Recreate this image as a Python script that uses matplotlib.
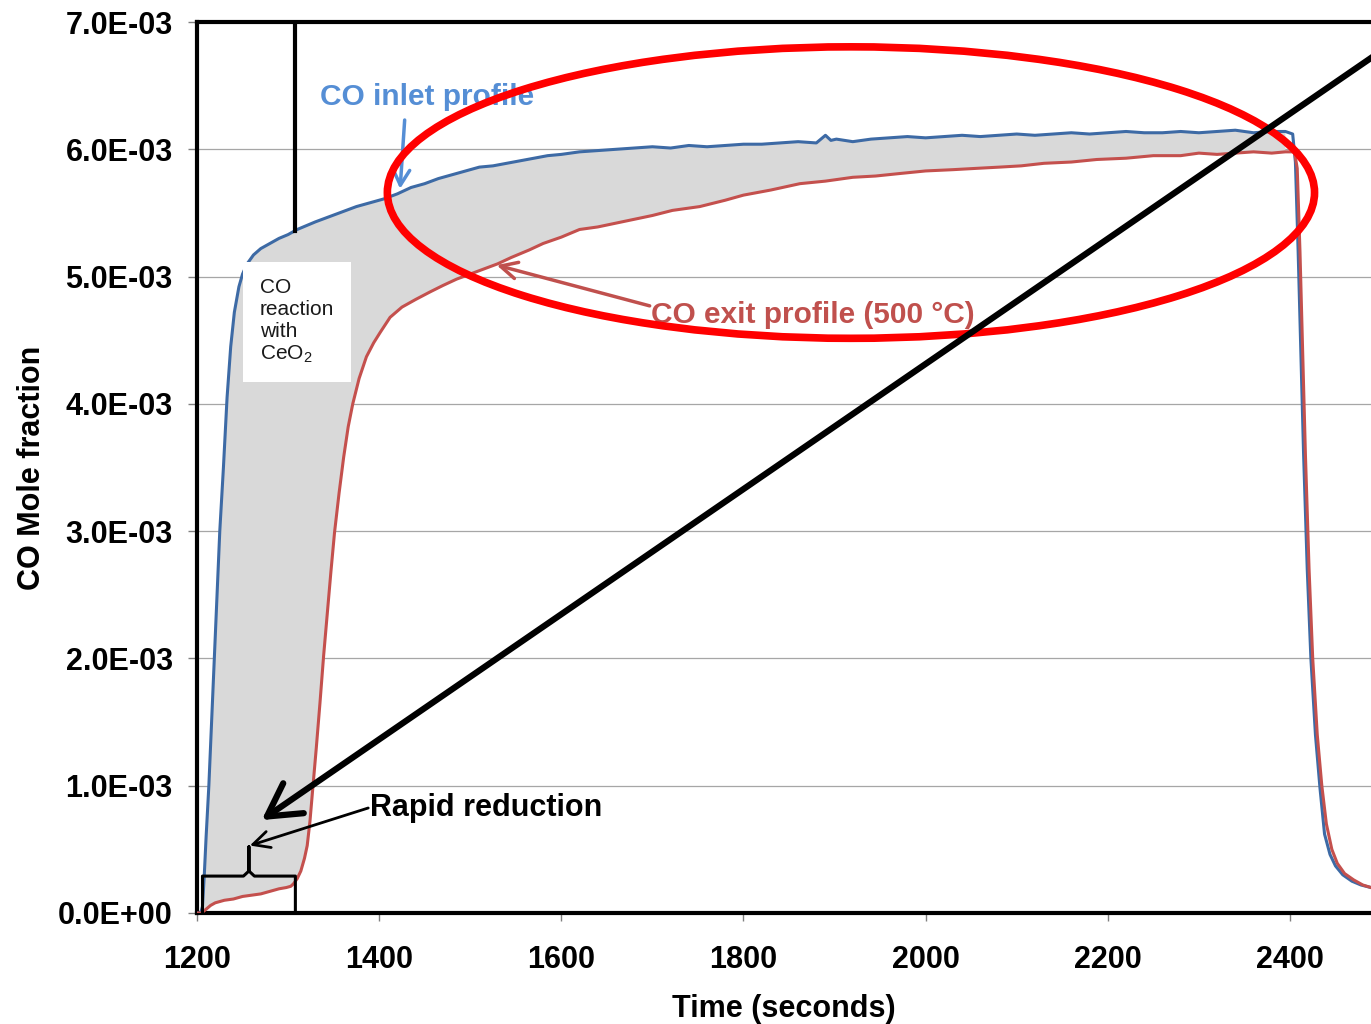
import numpy as np
import matplotlib.pyplot as plt
from matplotlib.patches import Ellipse
from matplotlib.ticker import FuncFormatter, MultipleLocator

# CO inlet profile (time in s, mole fraction in units of 1e-3)
inlet_t = [1200, 1204, 1206, 1208, 1210, 1213, 1216, 1219, 1222, 1225,
           1229, 1233, 1237, 1241, 1246, 1250, 1255, 1262, 1270, 1280,
           1290, 1300, 1310, 1320, 1330, 1345, 1360, 1375, 1390, 1405,
           1420, 1435, 1450, 1465, 1480, 1495, 1510, 1525, 1540, 1555,
           1570, 1585, 1600, 1620, 1640, 1660, 1680, 1700, 1720, 1740,
           1760, 1780, 1800, 1820, 1840, 1860, 1880, 1890, 1896, 1902,
           1920, 1940, 1960, 1980, 2000, 2020, 2040, 2060, 2080, 2100,
           2120, 2140, 2160, 2180, 2200, 2220, 2240, 2260, 2280, 2300,
           2320, 2340, 2360, 2380, 2395, 2403, 2406, 2409, 2412, 2415,
           2419, 2423, 2428, 2433, 2438, 2444, 2450, 2458, 2468, 2478,
           2489]
inlet_y = [0.00, 0.00, 0.05, 0.30, 0.60, 1.00, 1.50, 2.00, 2.50, 3.00,
           3.50, 4.05, 4.45, 4.72, 4.92, 5.02, 5.10, 5.17, 5.22, 5.26,
           5.30, 5.33, 5.37, 5.40, 5.43, 5.47, 5.51, 5.55, 5.58, 5.61,
           5.65, 5.70, 5.73, 5.77, 5.80, 5.83, 5.86, 5.87, 5.89, 5.91,
           5.93, 5.95, 5.96, 5.98, 5.99, 6.00, 6.01, 6.02, 6.01, 6.03,
           6.02, 6.03, 6.04, 6.04, 6.05, 6.06, 6.05, 6.11, 6.07, 6.08,
           6.06, 6.08, 6.09, 6.10, 6.09, 6.10, 6.11, 6.10, 6.11, 6.12,
           6.11, 6.12, 6.13, 6.12, 6.13, 6.14, 6.13, 6.13, 6.14, 6.13,
           6.14, 6.15, 6.13, 6.14, 6.14, 6.12, 5.90, 5.20, 4.40, 3.60,
           2.70, 2.00, 1.40, 0.98, 0.62, 0.46, 0.37, 0.30, 0.25, 0.22,
           0.20]

# CO exit profile at 500 C
exit_t = [1200, 1205, 1210, 1215, 1220, 1230, 1240, 1250, 1260, 1270,
          1280, 1290, 1298, 1303, 1306, 1310, 1314, 1318, 1321, 1324,
          1327, 1331, 1335, 1339, 1343, 1347, 1351, 1356, 1361, 1366,
          1371, 1378, 1386, 1394, 1401, 1412, 1425, 1440, 1456, 1470,
          1485, 1500, 1515, 1530, 1545, 1565, 1580, 1600, 1620, 1640,
          1660, 1680, 1700, 1722, 1752, 1780, 1800, 1830, 1862, 1890,
          1920, 1945, 1972, 2000, 2030, 2055, 2081, 2105, 2130, 2160,
          2188, 2220, 2250, 2280, 2300, 2320, 2340, 2360, 2380, 2395,
          2405, 2408, 2411, 2414, 2417, 2421, 2425, 2430, 2435, 2440,
          2446, 2452, 2460, 2470, 2480, 2489]
exit_y = [0.00, 0.00, 0.03, 0.06, 0.08, 0.10, 0.11, 0.13, 0.14, 0.15,
          0.17, 0.19, 0.20, 0.21, 0.23, 0.27, 0.33, 0.43, 0.53, 0.72,
          0.97, 1.30, 1.65, 2.02, 2.35, 2.68, 2.99, 3.30, 3.58, 3.82,
          4.00, 4.20, 4.37, 4.48, 4.56, 4.68, 4.76, 4.82, 4.88, 4.93,
          4.98, 5.02, 5.06, 5.10, 5.15, 5.21, 5.26, 5.31, 5.37, 5.39,
          5.42, 5.45, 5.48, 5.52, 5.55, 5.60, 5.64, 5.68, 5.73, 5.75,
          5.78, 5.79, 5.81, 5.83, 5.84, 5.85, 5.86, 5.87, 5.89, 5.90,
          5.92, 5.93, 5.95, 5.95, 5.97, 5.96, 5.97, 5.98, 5.97, 5.98,
          5.98, 5.85, 5.20, 4.40, 3.60, 2.70, 2.00, 1.40, 1.00, 0.70,
          0.50, 0.39, 0.31, 0.26, 0.22, 0.20]

y_ticks = [0, 1e-3, 2e-3, 3e-3, 4e-3, 5e-3, 6e-3, 7e-3]

plt.rcParams['font.family'] = ['Liberation Sans', 'DejaVu Sans']
plt.rcParams['font.weight'] = 'bold'
plt.rcParams['mathtext.default'] = 'regular'

t_in = np.array(inlet_t, dtype=float)
y_in = np.array(inlet_y) * 1e-3
t_out = np.array(exit_t, dtype=float)
y_out = np.array(exit_y) * 1e-3

fig = plt.figure(figsize=(13.71, 10.24), dpi=100)
ax = fig.add_axes([0.1437, 0.1084, 0.8563, 0.8701])

# shaded area between inlet and exit = CO consumed by CeO2
m_in = t_in <= 2400
m_out = t_out <= 2400
ax.fill(np.r_[t_in[m_in], t_out[m_out][::-1]],
        np.r_[y_in[m_in], y_out[m_out][::-1]],
        color='#d9d9d9', lw=0, zorder=1)

ax.plot(t_in, y_in, color='#3d6aa5', lw=2.2, zorder=3)
ax.plot(t_out, y_out, color='#c4504d', lw=2.2, zorder=3)

ax.set_xlim(1200, 2489)
ax.set_ylim(0, 7e-3)
ax.xaxis.set_major_locator(MultipleLocator(200))
ax.set_yticks(y_ticks)
ax.yaxis.set_major_formatter(FuncFormatter(lambda v, p: f"{v:.1E}"))
ax.grid(axis='y', color='#a6a6a6', lw=0.9)
ax.set_axisbelow(True)
ax.tick_params(axis='both', direction='out', color='#808080', width=1,
               labelsize=22)
ax.tick_params(axis='y', length=6.5, pad=11)
ax.tick_params(axis='x', length=6, pad=17)

ax.spines['right'].set_visible(False)
for side in ['left', 'top', 'bottom']:
    ax.spines[side].set_linewidth(3)
    ax.spines[side].set_color('black')

ax.set_xlabel('Time (seconds)', fontsize=22, fontweight='bold', labelpad=14)
ax.set_ylabel('CO Mole fraction', fontsize=22, fontweight='bold', labelpad=8)

# marker for the end of the rapid reduction step
mark_t = 1308
ax.plot([mark_t, mark_t], [np.interp(mark_t, t_in, y_in), 7e-3],
        color='black', lw=3, zorder=4)

# curly brace over the rapid reduction window
b0, b1 = 1206, mark_t
bmid = (b0 + b1) / 2
bh, btip = 0.29e-3, 0.52e-3
ax.plot([b0, b0, bmid - 6, bmid, bmid, bmid, bmid + 6, b1, b1],
        [0, bh, bh, bh + 0.04e-3, btip, bh + 0.04e-3, bh, bh, 0],
        color='black', lw=2.2, zorder=4, clip_on=False)

ax.text(1269, 4.99e-3, 'CO\nreaction\nwith\nCeO$_2$', fontsize=15,
        fontweight='normal', color='#1a1a1a', va='top', ha='left',
        linespacing=1.2, zorder=5,
        bbox=dict(boxstyle='square,pad=0.8', fc='white', ec='none'))

# series labels
ax.text(1335, 6.41e-3, 'CO inlet profile', color='#558ed5', fontsize=21.5,
        va='center', zorder=5)
ax.annotate('', xy=(1423, 5.69e-3), xytext=(1428, 6.23e-3),
            arrowprops=dict(arrowstyle='->,head_length=0.55,head_width=0.3',
                            color='#558ed5', lw=2.5, mutation_scale=20,
                            shrinkA=0, shrinkB=0), zorder=5)

ax.text(1699, 4.70e-3, 'CO exit profile (500 \u00b0C)', color='#c0504d',
        fontsize=21.5, va='center', zorder=5)
ax.annotate('', xy=(1529, 5.09e-3), xytext=(1697, 4.77e-3),
            arrowprops=dict(arrowstyle='->,head_length=0.6,head_width=0.3',
                            color='#c0504d', lw=2.5, mutation_scale=20,
                            shrinkA=0, shrinkB=0), zorder=5)

ax.text(1390, 0.825e-3, 'Rapid reduction', fontsize=22, va='center',
        color='black', zorder=5)
ax.annotate('', xy=(1258, 0.53e-3), xytext=(1388, 0.825e-3),
            arrowprops=dict(arrowstyle='->,head_length=0.6,head_width=0.3',
                            color='black', lw=2, mutation_scale=20,
                            shrinkA=0, shrinkB=0), zorder=5)

# highlight of the slow approach to saturation
ax.add_patch(Ellipse((1918, 5.66e-3), width=1018, height=2.29e-3,
                     fill=False, ec='#ff0000', lw=5.5, zorder=6,
                     clip_on=False))

ax.annotate('', xy=(1271, 0.73e-3), xytext=(2520, 6.87e-3),
            arrowprops=dict(arrowstyle='->,head_length=0.8,head_width=0.45',
                            color='black', lw=4.5, mutation_scale=29,
                            shrinkA=0, shrinkB=0),
            annotation_clip=False, zorder=7)

plt.savefig('out.png', dpi=100)
